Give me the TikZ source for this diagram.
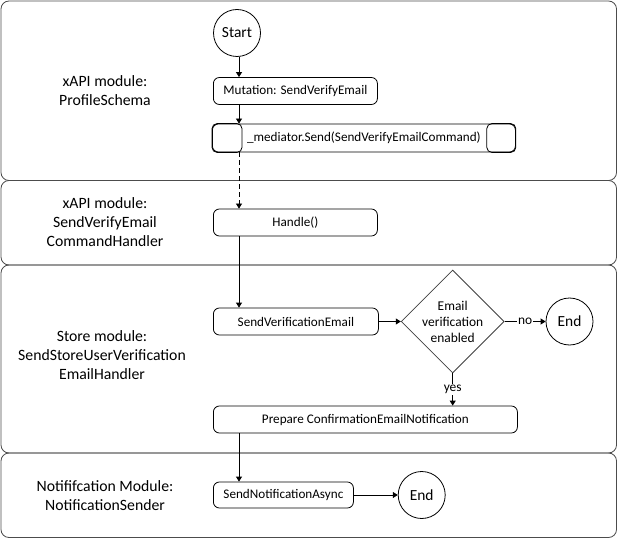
\documentclass[tikz,border=0pt]{standalone}
\usepackage{fontspec}
\setmainfont{Carlito}
\usetikzlibrary{shapes,arrows.meta,positioning}
\tikzstyle{lane} = [rectangle, draw=black!70, rounded corners=8bp, minimum width=615.5bp, inner sep=0pt]
\tikzstyle{lanetext} = [align=center, font=\fontsize{15.8}{19}\selectfont]
\tikzstyle{block} = [rectangle, draw, rounded corners=6bp, minimum height=27bp, inner sep=0pt, font=\fontsize{13.2}{15}\selectfont]
\tikzstyle{terminal} = [circle, draw, minimum size=47bp, inner sep=0pt, font=\fontsize{15.5}{18}\selectfont]
\tikzstyle{decision} = [diamond, draw=black!75, minimum width=103bp, minimum height=103bp, inner sep=0pt, align=center, font=\fontsize{13.5}{16}\selectfont]
\tikzstyle{edgetext} = [fill=white, inner sep=1bp, font=\fontsize{13.5}{16}\selectfont]
\tikzstyle{flow} = [-{Triangle[length=5bp,width=6bp]}]

\begin{document}
\begin{tikzpicture}[x=1bp,y=-1bp,line width=0.8bp]
    \useasboundingbox (0,0) rectangle (618,539);
    % lanes
    \node [lane, minimum height=179.5bp] (lane1) at (308.75,90.75) {};
    \node [lane, minimum height=84.5bp] (lane2) at (308.75,222.75) {};
    \node [lane, minimum height=188bp] (lane3) at (308.75,359) {};
    \node [lane, minimum height=84.5bp] (lane4) at (308.75,495.25) {};
    \node [lanetext] (name1) at (105,91) {xAPI module:\\ProfileSchema};
    \node [lanetext] (name2) at (105,222) {xAPI module:\\SendVerifyEmail\\CommandHandler};
    \node [lanetext] (name3) at (102,355) {Store module:\\SendStoreUserVerification\\EmailHandler};
    \node [lanetext] (name4) at (105,496) {Notififcation Module:\\NotificationSender};

    \coordinate (col) at (239,0);
    \node [terminal] (start) at (237,33) {Start};
    \node [block, minimum width=164bp, anchor=west] (mutation) at (213,91) {Mutation: SendVerifyEmail};
    \node [block, minimum width=303bp, minimum height=28bp, anchor=west] (mediator) at (212,138) {\_mediator.Send(SendVerifyEmailCommand)};
    \draw[rounded corners=5bp] (mediator.north west) rectangle ([xshift=30bp]mediator.south west);
    \draw[rounded corners=5bp] ([xshift=-29bp]mediator.north east) rectangle (mediator.south east);
    \node [block, minimum width=164bp, anchor=west] (handle) at (213,222.5) {Handle()};
    \node [block, minimum width=165bp, anchor=west] (sendver) at (213,321.5) {SendVerificationEmail};
    \node [decision, right=22bp of sendver] (check) {Email\\verification\\enabled};
    \node [terminal, right=41bp of check] (end1) {End};
    \node [block, minimum width=304bp, anchor=west] (prepare) at (213,419.5) {Prepare ConfirmationEmailNotification};
    \node [block, minimum width=140bp, minimum height=26bp, anchor=west] (sendnotif) at (213,495) {SendNotificationAsync};
    \node [terminal, right=44bp of sendnotif] (end2) {End};

    \draw[flow](start.south -| col) -- (mutation.north -| col);
    \draw[flow](mutation.south -| col) -- (mediator.north -| col);
    \draw[flow, dash pattern=on 5bp off 3bp](mediator.south -| col) -- (handle.north -| col);
    \draw[flow](handle.south -| col) -- (sendver.north -| col);
    \draw[flow](sendver) -- (check);
    \draw[flow](check) -- node[edgetext]{no} (end1);
    \draw[flow](check.south) -- node[edgetext]{yes} (check.south |- prepare.north);
    \draw[flow](prepare.south -| col) -- (sendnotif.north -| col);
    \draw[flow](sendnotif) -- (end2);
\end{tikzpicture}
\end{document}
